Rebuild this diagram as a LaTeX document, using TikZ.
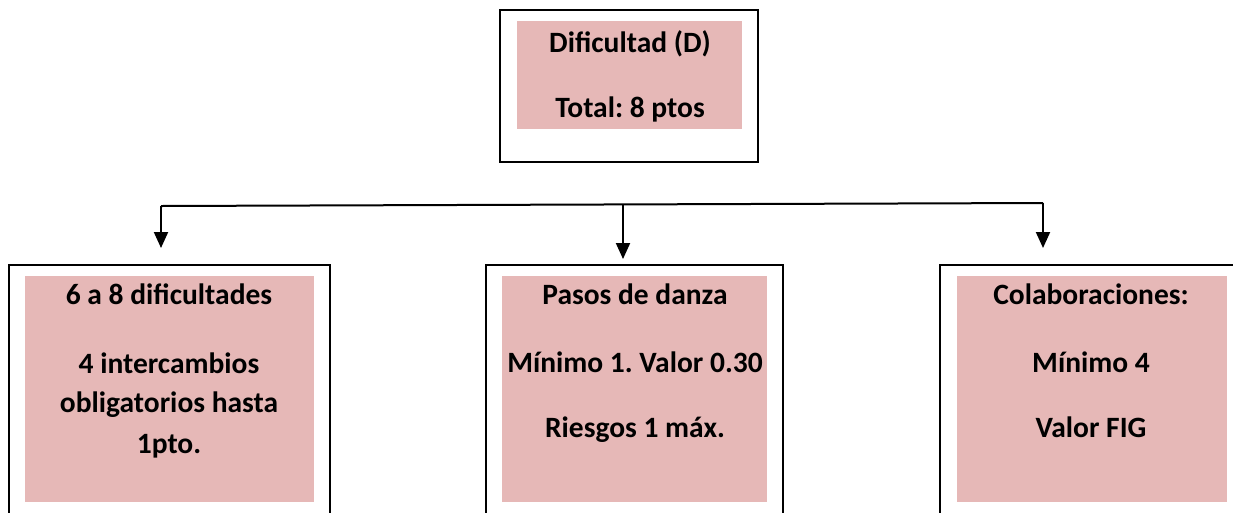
\documentclass[tikz,border=0pt]{standalone}
\usepackage{fontspec}
\setmainfont{Carlito}
\usetikzlibrary{arrows.meta}
\definecolor{pinkfill}{HTML}{E6B8B7}
\frenchspacing
\tikzset{
  outerbox/.style={draw=black, line width=1.6pt},
  pinkbox/.style={fill=pinkfill, draw=none},
  txt/.style={font=\fontsize{29.5}{34}\selectfont\bfseries\frenchspacing, inner sep=0pt, anchor=base},
  conn/.style={draw=black, line width=2pt},
  arr/.style={conn, -{Triangle[width=14pt,length=16pt]}},
}
\begin{document}
\begin{tikzpicture}[x=1pt,y=-1pt]
\useasboundingbox (0,0) rectangle (1233,512);
\clip (0,0) rectangle (1233,512);
% top box
\draw[outerbox] (500,10) rectangle (758,162);
\fill[pinkbox] (517,21) rectangle (742,129);
\node[txt] (t1) at (630,52) {Dificultad (D)};
\node[txt] (t2) at (630,117) {Total: 8 ptos};
% bottom boxes
\draw[outerbox] (9,265) rectangle (330,530);
\fill[pinkbox] (25,276) rectangle (314,502);
\draw[outerbox] (486,265) rectangle (783,530);
\fill[pinkbox] (502,276) rectangle (767,502);
\draw[outerbox] (940,265) rectangle (1250,530);
\fill[pinkbox] (957,276) rectangle (1227,502);
% left texts
\node[txt] (l1) at (169,304) {6 a 8 dificultades};
\node[txt] (l2) at (169,373) {4 intercambios};
\node[txt] (l3) at (169,412) {obligatorios hasta};
\node[txt] (l4) at (169,453) {1pto.};
% middle texts
\node[txt] (m1) at (635,304) {Pasos de danza};
\node[txt] (m2) at (635,372) {Mínimo 1. Valor 0.30};
\node[txt] (m3) at (635,437) {Riesgos 1 máx.};
% right texts
\node[txt] (r1) at (1091,304) {Colaboraciones:};
\node[txt] (r2) at (1091,372) {Mínimo 4};
\node[txt] (r3) at (1091,437) {Valor FIG};
% connectors
\coordinate (hl) at (161,206);
\coordinate (hm) at (623,205);
\coordinate (hr) at (1043,203);
\coordinate (al) at (161,248);
\coordinate (am) at (623,259);
\coordinate (ar) at (1043,248);
\draw[conn] (hl) -- (hr);
\draw[arr] (hl) -- (al);
\draw[arr] (hm) -- (am);
\draw[arr] (hr) -- (ar);
\end{tikzpicture}
\end{document}
